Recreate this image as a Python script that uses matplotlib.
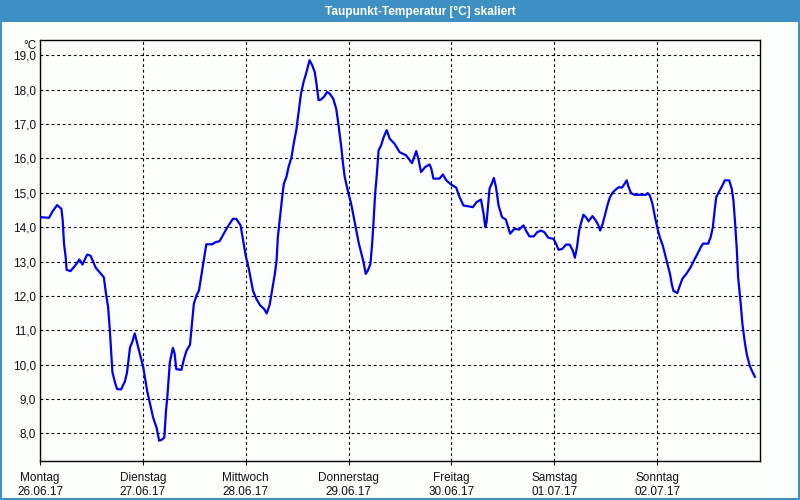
import matplotlib.pyplot as plt
from matplotlib.patches import Rectangle

# hours since Monday 26.06.17 00:00
hours = [0.0, 2.1, 3.0, 4.0, 5.0, 5.3, 5.6, 6.0, 6.2, 7.1, 8.2, 9.2, 9.9, 11.0, 11.8, 13.0, 14.9, 15.4, 15.9, 16.3,
         16.7, 16.9, 17.5, 18.0, 18.9, 19.8, 20.3, 21.0, 21.5, 22.1, 23.3, 24.1, 25.0, 26.4, 27.2, 27.8, 28.3, 29.0, 29.4, 29.7,
         30.3, 31.0, 31.4, 31.8, 33.0, 33.6, 34.2, 35.0, 35.3, 35.9, 36.5, 37.1, 37.7, 38.2, 38.8, 40.2, 40.9, 41.9,
         43.5, 45.0, 45.8, 46.8, 47.4, 48.0, 48.8, 49.7, 50.5, 51.4, 52.3, 52.9, 53.6, 54.2, 54.8, 55.2, 55.5, 56.1,
         56.6, 56.9, 57.5, 58.0, 58.7, 59.2, 59.8, 60.3, 60.9, 61.5, 62.1, 62.5, 62.9, 63.5, 64.1, 64.5, 65.0, 65.6,
         66.4, 67.0, 67.6, 68.4, 69.1, 69.5, 69.9, 70.3, 70.7, 71.1, 71.8, 72.6, 73.2, 73.8, 74.4, 75.0, 75.5, 76.0,
         76.5, 77.1, 77.5, 77.8, 78.2, 78.6, 79.0, 79.6, 80.2, 80.9, 81.6, 82.7, 83.9, 85.4, 86.8, 87.8, 88.4, 88.9,
         89.9, 90.9, 91.3, 91.8, 93.2, 94.0, 94.8, 95.9, 97.1, 97.9, 98.8, 101.0, 101.9, 102.9, 103.5, 103.9, 104.2,
         104.9, 105.4, 105.9, 106.4, 107.0, 107.8, 108.7, 109.1, 109.7, 110.7, 111.8, 112.8, 113.4, 114.2, 115.2,
         116.0, 116.9, 117.7, 118.6, 119.8, 120.4, 121.0, 121.9, 122.7, 123.6, 124.3, 124.8, 125.3, 125.8, 126.2,
         126.8, 127.5, 128.0, 128.9, 129.7, 130.3, 130.7, 131.3, 131.9, 132.5, 133.0, 133.6, 134.4, 135.0, 135.8,
         136.3, 136.9, 137.3, 137.9, 138.7, 141.4, 141.8, 142.3, 142.9, 143.5, 144.1, 144.6, 145.3, 145.9, 146.4,
         147.0, 147.4, 147.8, 148.7, 149.3, 149.9, 150.8, 151.8, 152.6, 153.4, 154.2, 154.7, 155.9, 156.5, 157.0,
         157.5, 157.8, 158.4, 159.1, 159.8, 160.8, 161.4, 161.8, 162.2, 162.6, 162.9, 163.5, 163.9, 164.4, 164.9,
         165.6, 166.2, 166.8]
taupunkt = [14.29, 14.27, 14.47, 14.64, 14.53, 14.19, 13.52, 13.12, 12.76, 12.72, 12.88, 13.06, 12.91, 13.20, 13.17, 12.82, 12.54, 12.06, 11.67, 10.99,
            10.21, 9.78, 9.48, 9.29, 9.28, 9.51, 9.77, 10.50, 10.65, 10.91, 10.31, 9.92, 9.24, 8.46, 8.17, 7.79, 7.81, 7.88, 8.66, 9.05,
            10.07, 10.49, 10.33, 9.87, 9.85, 10.17, 10.41, 10.58, 10.99, 11.77, 12.01, 12.16, 12.64, 13.03, 13.50, 13.50, 13.56, 13.59,
            13.95, 14.24, 14.24, 14.05, 13.61, 13.17, 12.74, 12.15, 11.91, 11.72, 11.62, 11.49, 11.75, 12.20, 12.64, 13.03, 13.71, 14.39,
            14.97, 15.26, 15.46, 15.75, 16.04, 16.43, 16.82, 17.30, 17.88, 18.22, 18.47, 18.66, 18.85, 18.71, 18.51, 18.18, 17.69, 17.71,
            17.81, 17.93, 17.88, 17.74, 17.45, 17.11, 16.72, 16.33, 15.85, 15.46, 15.07, 14.68, 14.29, 13.90, 13.52, 13.22, 12.98, 12.64,
            12.74, 12.93, 13.52, 14.10, 14.97, 15.55, 16.23, 16.38, 16.62, 16.82, 16.57, 16.43, 16.18, 16.09, 15.86, 16.21, 15.92, 15.60,
            15.75, 15.82, 15.70, 15.41, 15.41, 15.53, 15.36, 15.24, 15.15, 14.87, 14.63, 14.58, 14.73, 14.80, 14.39, 14.00, 14.14,
            15.12, 15.26, 15.43, 15.16, 14.63, 14.29, 14.22, 14.05, 13.81, 13.95, 13.93, 14.05, 13.90, 13.73, 13.73,
            13.85, 13.90, 13.85, 13.69, 13.66, 13.52, 13.34, 13.37, 13.49, 13.49, 13.32, 13.11, 13.42, 13.90, 14.10,
            14.36, 14.27, 14.17, 14.32, 14.19, 14.05, 13.90, 14.10, 14.39, 14.68, 14.87, 15.00, 15.10, 15.16, 15.15,
            15.24, 15.36, 15.18, 14.99, 14.94, 14.94, 14.99, 14.92, 14.68, 14.29, 13.95, 13.71, 13.47, 13.17, 12.93,
            12.64, 12.35, 12.15, 12.08, 12.30, 12.50, 12.64, 12.83, 13.03, 13.22, 13.42, 13.52, 13.52, 13.71, 14.00,
            14.58, 14.87, 15.02, 15.18, 15.36, 15.36, 15.12, 14.78, 14.10, 13.32, 12.54, 11.77, 11.18, 10.70, 10.31,
            9.97, 9.80, 9.65]

tage = ['Montag', 'Dienstag', 'Mittwoch', 'Donnerstag', 'Freitag', 'Samstag', 'Sonntag']
daten = ['26.06.17', '27.06.17', '28.06.17', '29.06.17', '30.06.17', '01.07.17', '02.07.17']
y_ticks = [8, 9, 10, 11, 12, 13, 14, 15, 16, 17, 18, 19]

plt.rcParams['font.family'] = ['Liberation Sans', 'DejaVu Sans']

fig = plt.figure(figsize=(8, 5), dpi=100, facecolor='#fcfefc')

# title bar + frame
fig.patches.append(Rectangle((0, 1 - 22 / 500), 1, 22 / 500, transform=fig.transFigure,
                             facecolor='#3d8fc4', edgecolor='none', zorder=0))
fig.patches.append(Rectangle((0.001, 0.002), 0.998, 0.996, transform=fig.transFigure,
                             facecolor='none', edgecolor='#3d8fc4', lw=1.5, zorder=1))
fig.text(420 / 800, 1 - 11.5 / 500, 'Taupunkt-Temperatur [°C] skaliert', color='white',
         fontsize=8.6, fontweight='bold', ha='center', va='center')
fig.text(37 / 800, 1 - 46 / 500, '°C', fontsize=8.5, ha='right', va='center', color='#111111')

ax = fig.add_axes([40 / 800, 1 - 461 / 500, 720 / 800, 421 / 500])
ax.set_facecolor('#fcfefc')
ax.plot(hours, taupunkt, color='#0000f0', lw=1.6, zorder=3)

ax.set_xlim(0, 168)
ax.set_ylim(7.2, 19.44)
ax.set_xticks([24 * i for i in range(7)])
ax.set_xticklabels([t + '\n' + d for t, d in zip(tage, daten)])
ax.set_yticks(y_ticks)
ax.set_yticklabels([('%.1f' % v).replace('.', ',') for v in y_ticks])
ax.tick_params(axis='x', length=3, width=0.8, pad=5, labelsize=8.5, colors='#111111')
ax.tick_params(axis='y', length=0, pad=3, labelsize=8.5, colors='#111111')
ax.grid(True, color='black', lw=0.8, linestyle=(0, (2.5, 2.5)))
for s in ax.spines.values():
    s.set_linewidth(1.0)
    s.set_color('black')

fig.savefig('out.png', dpi=100, facecolor=fig.get_facecolor())
